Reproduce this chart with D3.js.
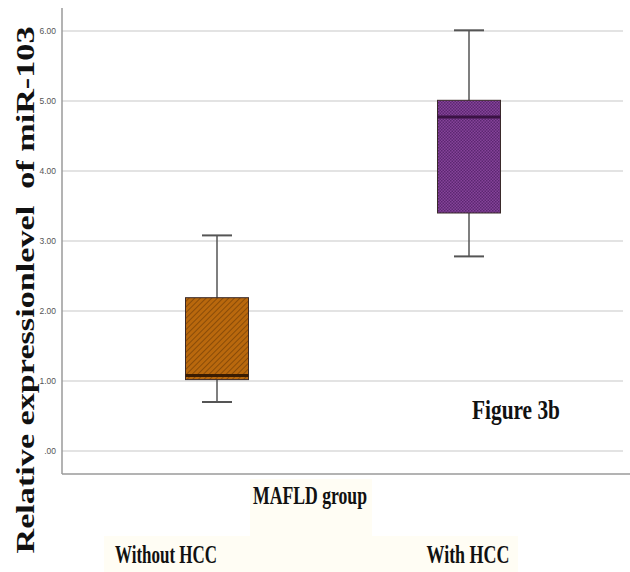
<!DOCTYPE html>
<html lang="en">
<head>
<meta charset="UTF-8">
<title>Relative expression of miR-103</title>
<script src="https://cdnjs.cloudflare.com/ajax/libs/d3/7.8.5/d3.min.js"></script>
<style>
  body { margin: 0; background: #fff; }
  svg { display: block; }
</style>
</head>
<body>
<div id="chart"></div>
<script>
// box plot summaries
const groups = ["Without HCC", "With HCC"];
const whiskerLow = [0.70, 2.78];
const q1 = [1.02, 3.40];
const median = [1.08, 4.77];
const q3 = [2.19, 5.01];
const whiskerHigh = [3.08, 6.01];
const yTicks = [0, 1, 2, 3, 4, 5, 6];
const tickLabels = [".00", "1.00", "2.00", "3.00", "4.00", "5.00", "6.00"];

const width = 630, height = 572;
const plotLeft = 62, plotBottom = 474, plotTop = 8;

const svg = d3.select("#chart").append("svg")
  .attr("width", width).attr("height", height);

// hatch patterns
const defs = svg.append("defs");
const hatch = defs.append("pattern").attr("id", "hatch")
  .attr("patternUnits", "userSpaceOnUse").attr("width", 4).attr("height", 4)
  .attr("patternTransform", "rotate(45)");
hatch.append("rect").attr("width", 4).attr("height", 4).attr("fill", "#b9680d");
hatch.append("line").attr("x1", 0).attr("y1", 0).attr("x2", 0).attr("y2", 4)
  .attr("stroke", "#7e4506").attr("stroke-width", 1.6);

const dots = defs.append("pattern").attr("id", "dots")
  .attr("patternUnits", "userSpaceOnUse").attr("width", 3).attr("height", 3);
dots.append("rect").attr("width", 3).attr("height", 3).attr("fill", "#86439a");
dots.append("rect").attr("width", 1.5).attr("height", 1.5).attr("fill", "#5b2770");
dots.append("rect").attr("x", 1.5).attr("y", 1.5).attr("width", 1.5).attr("height", 1.5).attr("fill", "#5b2770");

const fills = ["url(#hatch)", "url(#dots)"];
const medianColors = ["#3a1c02", "#3a1244"];

const y = d3.scaleLinear().domain([0, 6]).range([451, 31]);
const x = d3.scaleBand().domain(groups).range([91, 595]);

// faint cream backgrounds behind the bottom labels
svg.append("rect").attr("x", 250).attr("y", 479).attr("width", 122).attr("height", 58)
  .attr("fill", "#fffdf4");
svg.append("rect").attr("x", 104).attr("y", 536).attr("width", 414).attr("height", 36)
  .attr("fill", "#fffdf4");

// gridlines
svg.append("g").selectAll("line").data(yTicks).join("line")
  .attr("x1", plotLeft).attr("x2", 623)
  .attr("y1", d => y(d)).attr("y2", d => y(d))
  .attr("stroke", "#dadada").attr("stroke-width", 1.5);

// axis frame
svg.append("line").attr("x1", plotLeft).attr("x2", plotLeft).attr("y1", plotTop).attr("y2", plotBottom)
  .attr("stroke", "#9a9a9a").attr("stroke-width", 1.5);
svg.append("line").attr("x1", plotLeft).attr("x2", width).attr("y1", plotBottom).attr("y2", plotBottom)
  .attr("stroke", "#9a9a9a").attr("stroke-width", 1.5);

// tick labels
svg.append("g").selectAll("text").data(yTicks).join("text")
  .attr("x", 56).attr("y", d => y(d) + 3)
  .attr("text-anchor", "end")
  .attr("font-family", "Liberation Sans, Arial, sans-serif")
  .attr("font-size", 8.5).attr("fill", "#555")
  .text((d, i) => tickLabels[i]);

// boxes
const boxW = 63, capW = 30;
const g = svg.append("g").selectAll("g").data(groups).join("g");

g.append("line").attr("class", "whisker")
  .attr("x1", d => x(d) + x.bandwidth() / 2).attr("x2", d => x(d) + x.bandwidth() / 2)
  .attr("y1", (d, i) => y(whiskerLow[i])).attr("y2", (d, i) => y(whiskerHigh[i]))
  .attr("stroke", "#555").attr("stroke-width", 1.5);

g.selectAll("line.cap").data((d, i) => [[d, whiskerLow[i]], [d, whiskerHigh[i]]]).join("line")
  .attr("class", "cap")
  .attr("x1", d => x(d[0]) + x.bandwidth() / 2 - capW / 2)
  .attr("x2", d => x(d[0]) + x.bandwidth() / 2 + capW / 2)
  .attr("y1", d => y(d[1])).attr("y2", d => y(d[1]))
  .attr("stroke", "#555").attr("stroke-width", 2);

g.append("rect")
  .attr("x", d => x(d) + x.bandwidth() / 2 - boxW / 2)
  .attr("width", boxW)
  .attr("y", (d, i) => y(q3[i]))
  .attr("height", (d, i) => y(q1[i]) - y(q3[i]))
  .attr("fill", (d, i) => fills[i])
  .attr("stroke", "#3a2a2a").attr("stroke-width", 1);

g.append("line")
  .attr("x1", d => x(d) + x.bandwidth() / 2 - boxW / 2)
  .attr("x2", d => x(d) + x.bandwidth() / 2 + boxW / 2)
  .attr("y1", (d, i) => y(median[i])).attr("y2", (d, i) => y(median[i]))
  .attr("stroke", (d, i) => medianColors[i]).attr("stroke-width", 3);

// texts (the source picture is squeezed sideways, so glyphs are condensed)
const serif = "Liberation Serif, Times New Roman, serif";

svg.append("text")
  .attr("transform", "translate(34,290) rotate(-90)")
  .attr("text-anchor", "middle")
  .attr("font-family", serif).attr("font-weight", "bold").attr("font-size", 25)
  .attr("fill", "#111")
  .style("white-space", "pre")
  .attr("textLength", 527).attr("lengthAdjust", "spacingAndGlyphs")
  .text("Relative expressionlevel  of miR-103");

svg.append("text")
  .attr("x", 516).attr("y", 419).attr("text-anchor", "middle")
  .attr("font-family", serif).attr("font-weight", "bold").attr("font-size", 28)
  .attr("fill", "#111")
  .attr("textLength", 88).attr("lengthAdjust", "spacingAndGlyphs")
  .text("Figure 3b");

svg.append("text")
  .attr("x", 310).attr("y", 504).attr("text-anchor", "middle")
  .attr("font-family", serif).attr("font-weight", "bold").attr("font-size", 26)
  .attr("fill", "#111")
  .attr("textLength", 114).attr("lengthAdjust", "spacingAndGlyphs")
  .text("MAFLD group");

const bottomLabelX = [166, 468];
const bottomLabelW = [102, 83];
svg.append("g").selectAll("text").data(groups).join("text")
  .attr("x", (d, i) => bottomLabelX[i]).attr("y", 563).attr("text-anchor", "middle")
  .attr("font-family", serif).attr("font-weight", "bold").attr("font-size", 26)
  .attr("fill", "#111")
  .attr("textLength", (d, i) => bottomLabelW[i]).attr("lengthAdjust", "spacingAndGlyphs")
  .text(d => d);
</script>
</body>
</html>
